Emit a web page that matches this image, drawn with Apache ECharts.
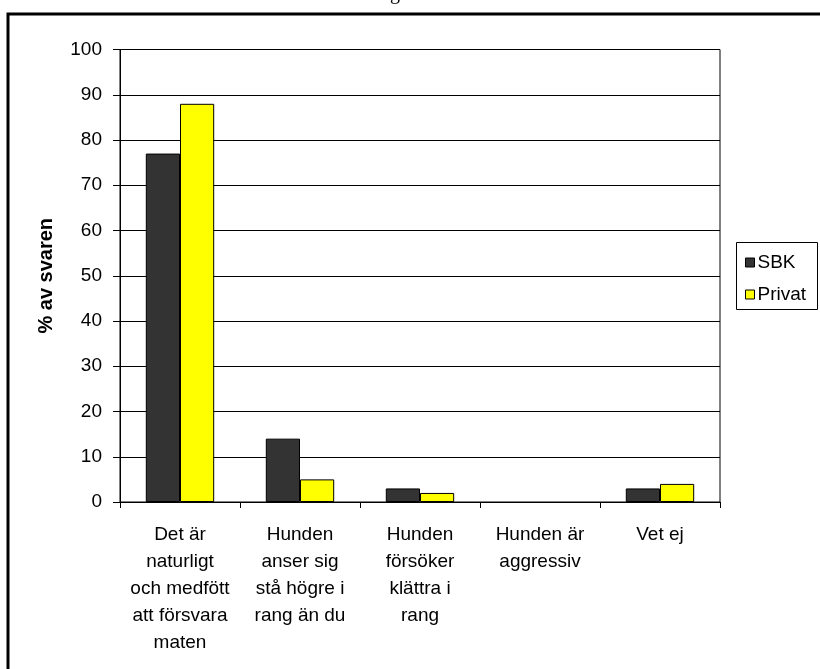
<!DOCTYPE html>
<html><head><meta charset="utf-8">
<script src="https://cdn.jsdelivr.net/npm/echarts@6/dist/echarts.min.js"></script>
<style>html,body{margin:0;padding:0;background:#fff}#c{width:820px;height:669px}</style>
</head><body><div id="c"></div>
<script>
const categories = [
  "Det är\nnaturligt\noch medfött\natt försvara\nmaten",
  "Hunden\nanser sig\nstå högre i\nrang än du",
  "Hunden\nförsöker\nklättra i\nrang",
  "Hunden är\naggressiv",
  "Vet ej"
];
const sbk = [77, 14, 3, 0, 3];
const privat = [88, 5, 2, 0, 4];
const yTicks = [0, 10, 20, 30, 40, 50, 60, 70, 80, 90, 100];

const font = "'Liberation Sans', Arial, sans-serif";
const toData = arr => arr.map(v => v === 0 ? {value: v, itemStyle: {borderWidth: 0}} : v);
const chart = echarts.init(document.getElementById('c'), null, {renderer: 'canvas'});
chart.setOption({
  animation: false,
  backgroundColor: '#fff',
  graphic: [
    {type: 'rect', shape: {x: 8, y: 14, width: 900, height: 800}, style: {fill: 'none', stroke: '#000', lineWidth: 3}, z: 100},
    {type: 'text', x: 395, y: -16, style: {text: 'g', font: "20px 'Liberation Serif', serif", fill: '#000', align: 'center', verticalAlign: 'top'}},
    {type: 'rect', shape: {x: 736.5, y: 242.5, width: 81, height: 67}, style: {fill: '#fff', stroke: '#000', lineWidth: 1}, z: 0}
  ],
  grid: {left: 120, right: 100, top: 49.5, bottom: 167, show: true, borderColor: '#000', borderWidth: 1, backgroundColor: 'transparent'},
  legend: {
    left: 745, top: 253, orient: 'vertical', padding: 0, itemWidth: 9, itemHeight: 9, itemGap: 13,
    textStyle: {fontFamily: font, fontSize: 19, color: '#000', padding: [0, 0, 0, -2]},
    icon: 'rect',
    data: [
      {name: 'SBK', itemStyle: {color: '#333333', borderColor: '#000', borderWidth: 1}},
      {name: 'Privat', itemStyle: {color: '#ffff00', borderColor: '#000', borderWidth: 1}}
    ]
  },
  xAxis: {
    type: 'category', data: categories,
    axisLine: {lineStyle: {color: '#000', width: 1}},
    axisTick: {show: true, length: 6, lineStyle: {color: '#000'}},
    axisLabel: {fontFamily: font, fontSize: 19, color: '#000', lineHeight: 27, margin: 19, interval: 0}
  },
  yAxis: {
    type: 'value', min: 0, max: 100, interval: 10,
    name: '% av svaren', nameLocation: 'middle', nameGap: 64,
    nameTextStyle: {fontFamily: font, fontSize: 20, fontWeight: 'bold', color: '#000'},
    axisLine: {show: true, lineStyle: {color: '#000', width: 1}},
    axisTick: {show: true, length: 7, lineStyle: {color: '#000'}},
    axisLabel: {fontFamily: font, fontSize: 19, color: '#000', margin: 18,
      formatter: v => yTicks.includes(v) ? String(v) : ''},
    splitLine: {show: true, lineStyle: {color: '#000', width: 1}}
  },
  series: [
    {name: 'SBK', type: 'bar', data: toData(sbk), barGap: '0%', barCategoryGap: '43%',
     itemStyle: {color: '#333333', borderColor: '#000', borderWidth: 1}},
    {name: 'Privat', type: 'bar', data: toData(privat), barGap: '0%', barCategoryGap: '43%',
     itemStyle: {color: '#ffff00', borderColor: '#000', borderWidth: 1}}
  ]
});
</script></body></html>
